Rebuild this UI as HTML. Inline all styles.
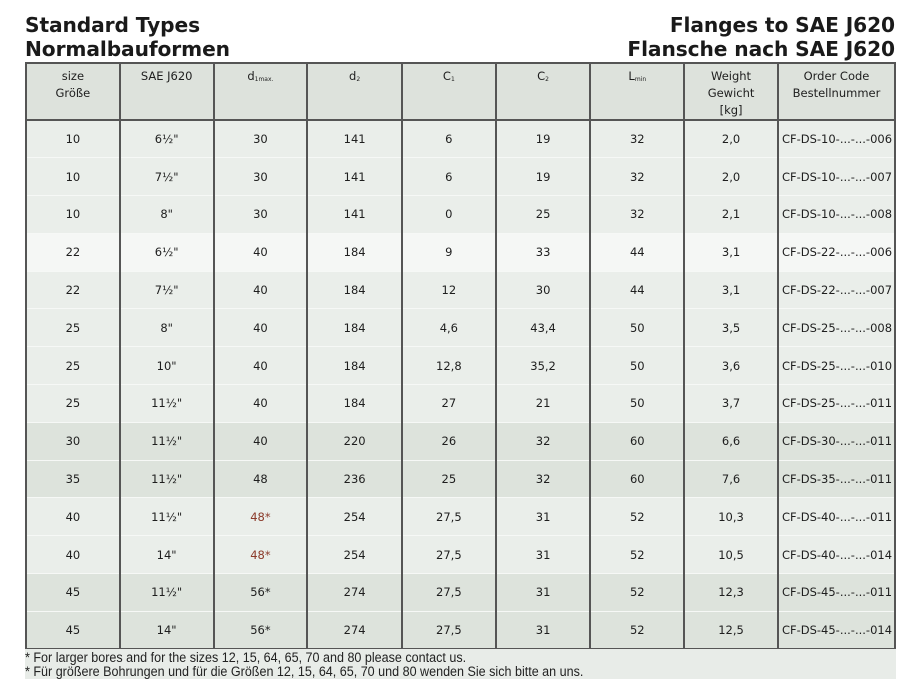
<!DOCTYPE html>
<html><head><meta charset="utf-8"><style>
*{margin:0;padding:0;box-sizing:border-box}
body{width:922px;height:692px;background:#fff;position:relative;overflow:hidden;font-family:"DejaVu Sans","Liberation Sans",sans-serif;color:#222}
.t{position:absolute;font-weight:bold;font-size:20.2px;line-height:24px;color:#1a1a1a;letter-spacing:-0.1px}
table{position:absolute;left:25px;top:62px;width:871px;border-collapse:collapse;font-size:11.5px;border:2px solid #555}
td{text-align:center;border-left:2px solid #555;border-right:2px solid #555;height:37.8px;vertical-align:middle;border-top:1px solid #f6f8f6;padding:0;color:#1e1e1e}
tr.h td{height:57px;vertical-align:top;padding-top:4px;line-height:17px;background:#dde2dc;border-bottom:2px solid #555;border-top:none}
tr.a td{background:#eaeeea}
tr.b td{background:#f5f7f5}
tr.c td{background:#dde3dc}
tr:last-child td{border-bottom:2px solid #555}
sub{font-size:6px;vertical-align:-1px}
td.r{color:#8b3a2a}
.oc{text-align:left;padding-left:3px;white-space:nowrap}
.fn{position:absolute;left:25px;top:649px;width:871px;height:30px;background:#e8ece8;font-family:"Liberation Sans",sans-serif;font-size:13.5px;line-height:13.5px;padding-top:2px;color:#222}
.fn div{transform:scaleX(0.93);transform-origin:left;white-space:nowrap}
</style></head><body>
<div class="t" style="left:25px;top:13px">Standard Types<br>Normalbauformen</div>
<div class="t" style="right:27px;top:13px;text-align:right">Flanges to SAE J620<br>Flansche nach SAE J620</div>
<table>
<colgroup><col style="width:94px"><col style="width:94px"><col style="width:94px"><col style="width:95px"><col style="width:94px"><col style="width:95px"><col style="width:94px"><col style="width:94px"><col style="width:117px"></colgroup>
<tr class="h"><td>size<br>Größe</td><td>SAE J620</td><td>d<sub>1max.</sub></td><td>d<sub>2</sub></td><td>C<sub>1</sub></td><td>C<sub>2</sub></td><td>L<sub>min</sub></td><td>Weight<br>Gewicht<br>[kg]</td><td>Order Code<br>Bestellnummer</td></tr>
<tr class="a"><td>10</td><td>6½"</td><td>30</td><td>141</td><td>6</td><td>19</td><td>32</td><td>2,0</td><td class="oc">CF-DS-10-...-...-006</td></tr>
<tr class="a"><td>10</td><td>7½"</td><td>30</td><td>141</td><td>6</td><td>19</td><td>32</td><td>2,0</td><td class="oc">CF-DS-10-...-...-007</td></tr>
<tr class="a"><td>10</td><td>8"</td><td>30</td><td>141</td><td>0</td><td>25</td><td>32</td><td>2,1</td><td class="oc">CF-DS-10-...-...-008</td></tr>
<tr class="b"><td>22</td><td>6½"</td><td>40</td><td>184</td><td>9</td><td>33</td><td>44</td><td>3,1</td><td class="oc">CF-DS-22-...-...-006</td></tr>
<tr class="a"><td>22</td><td>7½"</td><td>40</td><td>184</td><td>12</td><td>30</td><td>44</td><td>3,1</td><td class="oc">CF-DS-22-...-...-007</td></tr>
<tr class="a"><td>25</td><td>8"</td><td>40</td><td>184</td><td>4,6</td><td>43,4</td><td>50</td><td>3,5</td><td class="oc">CF-DS-25-...-...-008</td></tr>
<tr class="a"><td>25</td><td>10"</td><td>40</td><td>184</td><td>12,8</td><td>35,2</td><td>50</td><td>3,6</td><td class="oc">CF-DS-25-...-...-010</td></tr>
<tr class="a"><td>25</td><td>11½"</td><td>40</td><td>184</td><td>27</td><td>21</td><td>50</td><td>3,7</td><td class="oc">CF-DS-25-...-...-011</td></tr>
<tr class="c"><td>30</td><td>11½"</td><td>40</td><td>220</td><td>26</td><td>32</td><td>60</td><td>6,6</td><td class="oc">CF-DS-30-...-...-011</td></tr>
<tr class="c"><td>35</td><td>11½"</td><td>48</td><td>236</td><td>25</td><td>32</td><td>60</td><td>7,6</td><td class="oc">CF-DS-35-...-...-011</td></tr>
<tr class="a"><td>40</td><td>11½"</td><td class="r">48*</td><td>254</td><td>27,5</td><td>31</td><td>52</td><td>10,3</td><td class="oc">CF-DS-40-...-...-011</td></tr>
<tr class="a"><td>40</td><td>14"</td><td class="r">48*</td><td>254</td><td>27,5</td><td>31</td><td>52</td><td>10,5</td><td class="oc">CF-DS-40-...-...-014</td></tr>
<tr class="c"><td>45</td><td>11½"</td><td>56*</td><td>274</td><td>27,5</td><td>31</td><td>52</td><td>12,3</td><td class="oc">CF-DS-45-...-...-011</td></tr>
<tr class="c"><td>45</td><td>14"</td><td>56*</td><td>274</td><td>27,5</td><td>31</td><td>52</td><td>12,5</td><td class="oc">CF-DS-45-...-...-014</td></tr>
</table>
<div class="fn"><div>* For larger bores and for the sizes 12, 15, 64, 65, 70 and 80 please contact us.</div><div>* Für größere Bohrungen und für die Größen 12, 15, 64, 65, 70 und 80 wenden Sie sich bitte an uns.</div></div>
</body></html>
